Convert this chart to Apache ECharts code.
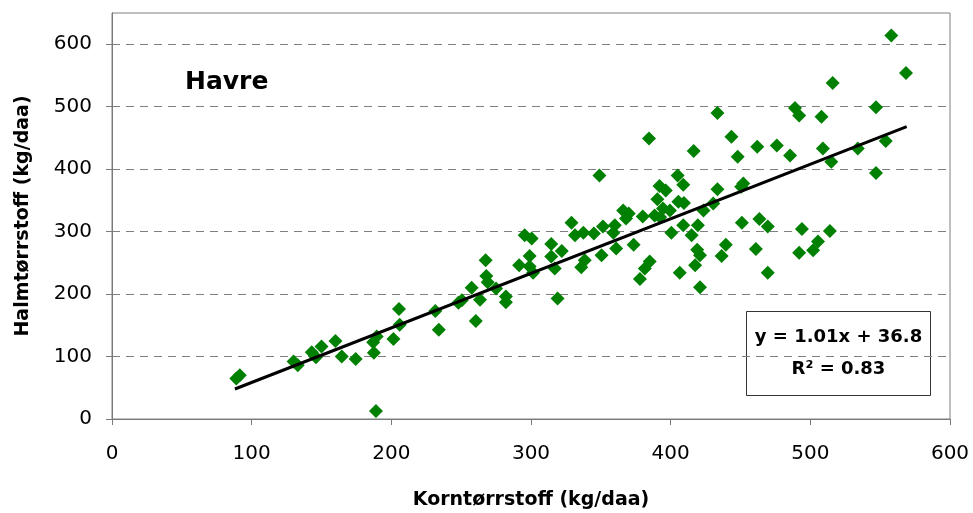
<!DOCTYPE html>
<html>
<head>
<meta charset="utf-8">
<title>Havre</title>
<script src="https://cdn.jsdelivr.net/npm/echarts@6/dist/echarts.min.js"></script>
<style>
  html, body { margin: 0; padding: 0; background: #ffffff; }
  #chart { width: 973px; height: 513px; }
</style>
</head>
<body>
<div id="chart"></div>
<script>
// Grain dry matter (kg/daa) per field
const korn = [
  89, 91.5, 130, 133, 143, 146, 150, 160, 164.5, 174.5,
  187, 187.5, 189.5, 189, 201.5, 205.5, 206, 231.5, 234, 248,
  250.5, 257.5, 260.5, 263.5, 267.5, 268, 269, 275, 282, 282,
  291.5, 295.5, 300.5, 299, 299, 301.5, 314.5, 314.5, 317, 319,
  322, 329, 331.5, 337.5, 345, 336, 338.5, 349, 350.5, 351.5,
  359, 360, 361, 366, 368, 370, 373.5, 378, 380, 381.5,
  384.5, 385, 388.5, 390.5, 392, 392.5, 394.5, 396.5, 399.5, 400.5,
  405, 405.5, 406.5, 409, 409.5, 409, 415, 416.5, 417.5, 419,
  419.5, 421, 421, 423.5, 430.5, 433.5, 433.5, 436.5, 439.5, 443.5,
  448, 450.5, 452, 451, 461, 462, 463.5, 469.5, 469.5, 476,
  485.5, 489, 492, 492, 494, 502, 505.5, 508, 509, 514,
  515, 516, 534, 547, 547, 554, 558, 568.5
];
// Straw dry matter (kg/daa) per field, same order
const halm = [
  65, 70, 92, 86, 107, 99, 116, 125, 100, 96,
  123, 106, 132, 13, 128, 176, 151, 173, 143, 186,
  190, 210, 157, 191, 254, 229, 219, 209, 196, 187,
  246, 294, 289, 261, 244, 234, 280, 260, 241, 193,
  269, 314, 294, 298, 297, 243, 254, 390, 262, 308,
  298, 310, 273, 334, 321, 329, 279, 224, 324, 241,
  449, 252, 326, 352, 373, 323, 337, 366, 334, 298,
  390, 348, 234, 375, 346, 310, 294, 429, 246, 271,
  310, 262, 211, 334, 345, 368, 490, 261, 279, 452,
  420, 372, 377, 314, 272, 436, 320, 308, 234, 438,
  422, 498, 486, 266, 304, 270, 284, 484, 433, 301,
  412, 538, 433, 499, 394, 445, 614, 554
];
// Fitted trend line, start and end point
const trendX = [88, 569];
const trendY = [48, 468];

const xTicks = [0, 100, 200, 300, 400, 500, 600];
const yTicks = [0, 100, 200, 300, 400, 500, 600];

const points = korn.map((k, i) => [k, halm[i]]);
const trend = trendX.map((x, i) => [x, trendY[i]]);

const FONT = 'DejaVu Sans';
const chart = echarts.init(document.getElementById('chart'), null, { renderer: 'canvas' });

chart.setOption({
  animation: false,
  backgroundColor: '#ffffff',
  grid: {
    left: 112, top: 13, right: 23, bottom: 94,
    outerBoundsMode: 'none',
    containLabel: false,
    show: true, borderColor: '#808080', borderWidth: 1, backgroundColor: '#ffffff'
  },
  xAxis: {
    type: 'value',
    min: xTicks[0], max: xTicks[xTicks.length - 1], interval: 100,
    axisLine: { show: true, lineStyle: { color: '#7a7a7a', width: 1 } },
    axisTick: { show: true, inside: false, length: 6, lineStyle: { color: '#7a7a7a' }, customValues: xTicks },
    axisLabel: { fontFamily: FONT, fontSize: 20, color: '#000', margin: 25, customValues: xTicks },
    splitLine: { show: false },
    name: 'Korntørrstoff (kg/daa)',
    nameLocation: 'middle',
    nameGap: 72,
    nameTextStyle: { fontFamily: FONT, fontSize: 19, fontWeight: 'bold', color: '#000' }
  },
  yAxis: {
    type: 'value',
    min: 0, max: 650, interval: 100,
    axisLine: { show: true, lineStyle: { color: '#7a7a7a', width: 1 } },
    axisTick: { show: true, inside: false, length: 6, lineStyle: { color: '#7a7a7a' }, customValues: yTicks },
    axisLabel: { fontFamily: FONT, fontSize: 20, color: '#000', margin: 20, customValues: yTicks },
    splitLine: { show: true, lineStyle: { color: '#808080', width: 1, type: [8, 6] } },
    name: 'Halmtørrstoff (kg/daa)',
    nameLocation: 'middle',
    nameGap: 79,
    nameRotate: 90,
    nameTextStyle: { fontFamily: FONT, fontSize: 19, fontWeight: 'bold', color: '#000' }
  },
  series: [
    {
      type: 'scatter',
      data: points,
      symbol: 'diamond',
      symbolSize: 14,
      itemStyle: { color: '#008000', opacity: 1 },
      z: 2
    },
    {
      type: 'line',
      data: trend,
      showSymbol: false,
      lineStyle: { color: '#000000', width: 3 },
      z: 3
    }
  ],
  graphic: [
    {
      type: 'text',
      left: 185, top: 70,
      style: { text: 'Havre', fontFamily: FONT, fontSize: 25, fontWeight: 'bold', fill: '#000' }
    },
    {
      type: 'group',
      left: 746, top: 311,
      children: [
        {
          type: 'rect',
          shape: { x: 0, y: 0, width: 184, height: 84 },
          style: { fill: '#ffffff', stroke: '#333333', lineWidth: 1 }
        },
        {
          type: 'text',
          x: 92, y: 26,
          style: { text: 'y = 1.01x + 36.8', fontFamily: FONT, fontSize: 18, fontWeight: 'bold', fill: '#000', align: 'center', verticalAlign: 'middle' }
        },
        {
          type: 'text',
          x: 92, y: 58,
          style: { text: 'R² = 0.83', fontFamily: FONT, fontSize: 18, fontWeight: 'bold', fill: '#000', align: 'center', verticalAlign: 'middle' }
        }
      ]
    }
  ]
});
</script>
</body>
</html>
